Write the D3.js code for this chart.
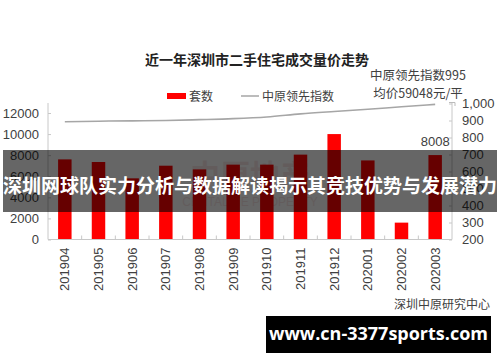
<!DOCTYPE html>
<html><head><meta charset="utf-8">
<script src="https://cdn.jsdelivr.net/npm/d3@7"></script>
<style>
html,body{margin:0;padding:0;background:#fff;}
svg{display:block;}
</style></head>
<body>
<svg id="c" width="500" height="362"></svg>
<script>
const categories = ["201904","201905","201906","201907","201908","201909","201910","201911","201912","202001","202002","202003"];
const units = [7600, 7350, 5800, 7000, 6650, 7100, 7100, 8050, 10000, 7500, 1600, 8008];
const indexValues = [893, 896, 898, 900, 905, 911, 921, 939, 953, 966, 981, 995];
const leftTicks = [0, 2000, 4000, 6000, 8000, 10000, 12000];
const rightTicks = [200, 300, 400, 500, 600, 700, 800, 900, 1000];
const title = "近一年深圳市二手住宅成交量价走势";
const legendBar = "套数";
const legendLine = "中原领先指数";
const noteLines = ["中原领先指数995", "均价59048元/平"];
const source = "深圳中原研究中心";
const banner = "深圳网球队实力分析与数据解读揭示其竞技优势与发展潜力";
const site = "www.cn-3377sports.com";

const svg = d3.select("#c");
const latin = "'Liberation Sans', Arial, 'Noto Sans CJK SC', sans-serif";
const cjk = "'Noto Sans CJK SC', 'Liberation Sans', sans-serif";
const axisCol = "#c8c8c8", textCol = "#404040";

const x = d3.scaleBand().domain(categories).range([48, 452]).paddingInner(0.6).paddingOuter(0.3);
const yL = d3.scaleLinear().domain([0, 12900]).range([239.5, 103.5]);
const yR = d3.scaleLinear().domain([200, 1000]).range([239.5, 103.5]);

// title
svg.append("text").attr("x", 257).attr("y", 65).attr("text-anchor", "middle")
  .attr("font-family", cjk).attr("font-size", 14).attr("font-weight", "bold").attr("fill", "#222")
  .text(title);

// legend
svg.append("rect").attr("x", 167).attr("y", 93).attr("width", 19).attr("height", 6).attr("fill", "#ff0000");
svg.append("text").attr("x", 189).attr("y", 100.5).attr("font-family", cjk).attr("font-size", 12).attr("fill", textCol).text(legendBar);
svg.append("line").attr("x1", 241).attr("x2", 259).attr("y1", 96).attr("y2", 96).attr("stroke", "#a6a6a6").attr("stroke-width", 1.5);
svg.append("text").attr("x", 262).attr("y", 100.5).attr("font-family", cjk).attr("font-size", 12).attr("fill", textCol).text(legendLine);

// annotation
noteLines.forEach((t, i) => {
  svg.append("text").attr("x", 418).attr("y", 80 + i * 18).attr("text-anchor", "middle")
    .attr("font-family", cjk).attr("font-size", 12.5).attr("fill", textCol).text(t);
});
svg.append("path").attr("d", "M449,102.5 H455 V106").attr("fill", "none").attr("stroke", "#bbb").attr("stroke-width", 1);

// watermark
svg.append("text").attr("x", 250).attr("y", 186).attr("text-anchor", "middle")
  .attr("font-family", cjk).attr("font-size", 30).attr("font-weight", "bold").attr("fill", "#e8b0b0").attr("opacity", 0.3).text("中原地产");
svg.append("text").attr("x", 250).attr("y", 206).attr("text-anchor", "middle")
  .attr("font-family", latin).attr("font-size", 12).attr("fill", "#e8b0b0").attr("opacity", 0.3).text("CENTALINE PROPERTY");

// bars
svg.append("g").selectAll("rect").data(categories).join("rect")
  .attr("x", d => x(d)).attr("width", x.bandwidth())
  .attr("y", (d, i) => yL(units[i])).attr("height", (d, i) => yL(0) - yL(units[i]))
  .attr("fill", "#ff0000");

// line
const line = d3.line().x((d, i) => x(categories[i]) + x.bandwidth() / 2).y(d => yR(d)).curve(d3.curveMonotoneX);
svg.append("path").datum(indexValues).attr("d", line).attr("fill", "none").attr("stroke", "#a6a6a6").attr("stroke-width", 1.6);

// label on last bar
svg.append("text").attr("x", x(categories[11]) + x.bandwidth() / 2).attr("y", yL(units[11]) - 9)
  .attr("text-anchor", "middle").attr("font-family", latin).attr("font-size", 13).attr("fill", textCol).text(units[11]);

// axes
const axL = svg.append("g").attr("transform", "translate(48,0)")
  .call(d3.axisLeft(yL).tickValues(leftTicks).tickSize(-3).tickPadding(9).tickFormat(d3.format("d")));
const axR = svg.append("g").attr("transform", "translate(452,0)")
  .call(d3.axisRight(yR).tickValues(rightTicks).tickSize(-3).tickPadding(10).tickFormat(d3.format(",")));
const axB = svg.append("g").attr("transform", "translate(0,239.5)")
  .call(d3.axisBottom(x).tickSize(0).tickPadding(0));
[axL, axR, axB].forEach(a => {
  a.select(".domain").attr("stroke", axisCol);
  a.selectAll(".tick line").attr("stroke", axisCol);
  a.selectAll("text").attr("font-family", latin).attr("font-size", 13).attr("fill", textCol);
});
axL.select(".domain").attr("d", "M0,239.5V103");
axR.select(".domain").attr("d", "M0,239.5V103");
axB.select(".domain").attr("d", "M48,0H452");
// category separator ticks
svg.append("g").selectAll("line").data(categories.slice(1)).join("line")
  .attr("x1", d => x(d) - x.step() * x.paddingInner() / 2).attr("x2", d => x(d) - x.step() * x.paddingInner() / 2)
  .attr("y1", 239.5).attr("y2", 235.5).attr("stroke", axisCol);
axB.selectAll(".tick text")
  .attr("transform", "translate(0,8) rotate(-90)")
  .attr("text-anchor", "end").attr("dy", "0.35em").attr("x", 0).attr("y", 0);

// source
svg.append("text").attr("x", 490).attr("y", 309).attr("text-anchor", "end")
  .attr("font-family", cjk).attr("font-size", 12).attr("fill", textCol).text(source);

// banner
svg.append("rect").attr("x", 3).attr("y", 150).attr("width", 494).attr("height", 62).attr("fill", "rgba(0,0,0,0.6)");
svg.append("text").attr("x", 250).attr("y", 188).attr("text-anchor", "middle").attr("dominant-baseline", "middle")
  .attr("font-family", cjk).attr("font-size", 19).attr("font-weight", "bold").attr("fill", "#fff").text(banner);

// site box
svg.append("rect").attr("x", 266).attr("y", 316).attr("width", 225).attr("height", 37).attr("fill", "#000");
svg.append("text").attr("x", 378.5).attr("y", 335).attr("text-anchor", "middle").attr("dominant-baseline", "middle")
  .attr("font-family", "'Open Sans', 'DejaVu Sans', sans-serif").attr("font-size", 18).attr("font-weight", "bold").attr("fill", "#fff").text(site);
</script>
</body></html>
